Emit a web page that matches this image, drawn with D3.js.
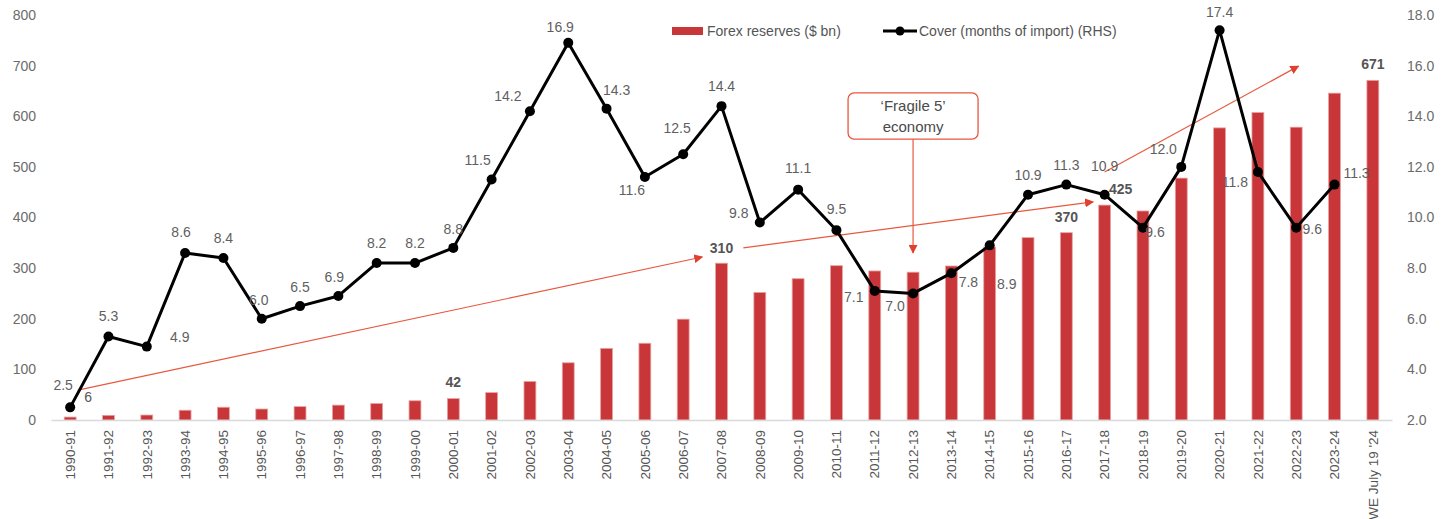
<!DOCTYPE html>
<html>
<head>
<meta charset="utf-8">
<script src="https://cdn.jsdelivr.net/npm/d3@7"></script>
<style>
  body { margin: 0; background: #fff; }
  svg { font-family: Arial, "Liberation Sans", sans-serif; }
</style>
</head>
<body>
<div id="chart"></div>
<script>
// categories (fiscal years)
const categories = ["1990-91","1991-92","1992-93","1993-94","1994-95","1995-96","1996-97","1997-98",
  "1998-99","1999-00","2000-01","2001-02","2002-03","2003-04","2004-05","2005-06","2006-07","2007-08",
  "2008-09","2009-10","2010-11","2011-12","2012-13","2013-14","2014-15","2015-16","2016-17","2017-18",
  "2018-19","2019-20","2020-21","2021-22","2022-23","2023-24","WE July 19 '24"];

// forex reserves, $ bn (left axis)
const reserves = [5.8, 9.2, 9.8, 19.3, 25.2, 21.7, 26.4, 29.4, 32.5, 38.0, 42.3, 54.1, 76.1, 113.0,
  141.5, 151.6, 199.2, 309.7, 252.0, 279.1, 304.8, 294.4, 292.0, 304.2, 341.6, 360.2, 370.0, 424.5,
  412.9, 477.8, 577.0, 607.3, 578.4, 645.6, 670.9];

// import cover, months (right axis) - no value for the last week
const cover = [2.5, 5.3, 4.9, 8.6, 8.4, 6.0, 6.5, 6.9, 8.2, 8.2, 8.8, 11.5, 14.2, 16.9, 14.3, 11.6,
  12.5, 14.4, 9.8, 11.1, 9.5, 7.1, 7.0, 7.8, 8.9, 10.9, 11.3, 10.9, 9.6, 12.0, 17.4, 11.8, 9.6, 11.3];

// bars that carry a value label
const barLabelCats = ["1990-91", "2000-01", "2007-08", "2016-17", "2017-18", "WE July 19 '24"];
const barLabelText = ["6", "42", "310", "370", "425", "671"];

const leftTicks = [0, 100, 200, 300, 400, 500, 600, 700, 800];
const rightTicks = [2, 4, 6, 8, 10, 12, 14, 16, 18];

const seriesNames = ["Forex reserves ($ bn)", "Cover (months of import) (RHS)"];
const annotationText = ["\u2018Fragile 5\u2019", "economy"];

// label placement (dx, dy from the point), layout only
const coverLabelOffsets = [[-7,-22],[0,-20],[33,-10],[-4,-21],[0,-20],[-3,-19],[0,-19],[-4,-19],
  [0,-20],[0,-20],[0,-19],[-14,-20],[-22,-15],[-8,-16],[10,-19],[-13,13],[-6,-26],[0,-20],
  [-21,-10],[0,-22],[0,-21],[-21,6],[-18,13],[17,9],[17,39],[0,-20],[0,-20],[0,-29],[12,4],
  [-18,-18],[0,-18],[-23,10],[16,1],[22,-12]];
const barLabelOffsets = [[18,-20],[0,-17],[0,-15],[0,-16],[16,-16],[0,-16]];
const barLabelWeight = ["normal", "bold", "bold", "bold", "bold", "bold"];

const W = 1448, H = 519;
const plot = {left: 51, right: 1392, top: 15, bottom: 420};
const FONT = "Arial, 'Liberation Sans', sans-serif";

const svg = d3.select("#chart").append("svg")
  .attr("width", W).attr("height", H);

const x = d3.scaleBand()
  .domain(categories)
  .range([plot.left, plot.right])
  .paddingInner(0.69)
  .paddingOuter(0.345);
const cx = c => x(c) + x.bandwidth() / 2;

const yL = d3.scaleLinear().domain([0, 800]).range([plot.bottom, plot.top]);
const yR = d3.scaleLinear().domain([2, 18]).range([plot.bottom, plot.top]);

// left axis
const axL = svg.append("g")
  .attr("transform", "translate(" + (plot.left - 15) + ",0)")
  .call(d3.axisLeft(yL).tickValues(leftTicks).tickSize(0).tickPadding(0));
axL.select(".domain").remove();
axL.selectAll("text").attr("font-size", 14).attr("fill", "#6b6b6b").attr("font-family", FONT);

// right axis
const axR = svg.append("g")
  .attr("transform", "translate(" + (plot.right + 15) + ",0)")
  .call(d3.axisRight(yR).tickValues(rightTicks).tickFormat(d3.format(".1f")).tickSize(0).tickPadding(0));
axR.select(".domain").remove();
axR.selectAll("text").attr("font-size", 14).attr("fill", "#6b6b6b").attr("font-family", FONT);

// bars
svg.append("g").selectAll("rect")
  .data(categories)
  .join("rect")
  .attr("x", d => x(d))
  .attr("y", (d, i) => yL(reserves[i]))
  .attr("width", x.bandwidth())
  .attr("height", (d, i) => yL(0) - yL(reserves[i]))
  .attr("fill", "#c9363a")
  .attr("stroke", "#e6a3a0")
  .attr("stroke-width", 0.8);

// x axis
const axX = svg.append("g")
  .attr("transform", "translate(0," + plot.bottom + ")")
  .call(d3.axisBottom(x).tickSize(0).tickPadding(0));
axX.select(".domain").attr("stroke", "#d9d9d9").attr("stroke-width", 1.5);
axX.selectAll("text")
  .attr("font-size", 13.5).attr("fill", "#555")
  .attr("font-family", FONT)
  .attr("transform", "rotate(-90)")
  .attr("text-anchor", "end")
  .attr("x", -10).attr("y", 0).attr("dy", "0.35em");

// arrow marker
const defs = svg.append("defs");
defs.append("marker")
  .attr("id", "arr")
  .attr("viewBox", "0 0 10 10")
  .attr("refX", 9).attr("refY", 5)
  .attr("markerWidth", 9).attr("markerHeight", 9)
  .attr("markerUnits", "userSpaceOnUse")
  .attr("orient", "auto")
  .append("path").attr("d", "M0,0 L10,5 L0,10 Z").attr("fill", "#e0402e");

// trend arrows in data terms: [category index, reserves value]
const trendArrows = [
  [[0.2, 59], [16.5, 322]],
  [[17.57, 340], [26.7, 431]],
  [[27.0, 490], [32.06, 699]]
];
const idxX = i => cx(categories[0]) + i * x.step();
svg.append("g").selectAll("line")
  .data(trendArrows)
  .join("line")
  .attr("x1", d => idxX(d[0][0])).attr("y1", d => yL(d[0][1]))
  .attr("x2", d => idxX(d[1][0])).attr("y2", d => yL(d[1][1]))
  .attr("stroke", "#e8583f").attr("stroke-width", 1.2)
  .attr("marker-end", "url(#arr)");

// Fragile 5 callout
const fx = cx("2012-13");
const box = svg.append("g");
box.append("rect")
  .attr("x", fx - 65).attr("y", yL(646))
  .attr("width", 130).attr("height", yL(555) - yL(646))
  .attr("rx", 6)
  .attr("fill", "#fff").attr("stroke", "#e8583f").attr("stroke-width", 1.3);
box.selectAll("text")
  .data(annotationText)
  .join("text")
  .attr("x", fx)
  .attr("y", (d, i) => yL(646) + 13 + i * 21)
  .attr("text-anchor", "middle")
  .attr("dominant-baseline", "central")
  .attr("font-size", 15).attr("fill", "#4a4a4a")
  .text(d => d);
box.append("line")
  .attr("x1", fx).attr("y1", yL(555))
  .attr("x2", fx).attr("y2", yL(330))
  .attr("stroke", "#e8583f").attr("stroke-width", 1.2)
  .attr("marker-end", "url(#arr)");

// cover line
const coverCats = categories.slice(0, cover.length);
const line = d3.line()
  .x((d, i) => cx(coverCats[i]))
  .y(d => yR(d));
svg.append("path")
  .datum(cover)
  .attr("d", line)
  .attr("fill", "none")
  .attr("stroke", "#000")
  .attr("stroke-width", 3)
  .attr("stroke-linejoin", "round");
svg.append("g").selectAll("circle")
  .data(cover)
  .join("circle")
  .attr("cx", (d, i) => cx(coverCats[i]))
  .attr("cy", d => yR(d))
  .attr("r", 5)
  .attr("fill", "#000");

// cover labels
svg.append("g").selectAll("text")
  .data(cover)
  .join("text")
  .attr("x", (d, i) => cx(coverCats[i]) + coverLabelOffsets[i][0])
  .attr("y", (d, i) => yR(d) + coverLabelOffsets[i][1])
  .attr("text-anchor", "middle")
  .attr("dominant-baseline", "central")
  .attr("font-size", 14).attr("fill", "#5f5f5f")
  .text(d => d3.format(".1f")(d));

// bar labels
svg.append("g").selectAll("text")
  .data(barLabelCats)
  .join("text")
  .attr("x", (d, i) => cx(d) + barLabelOffsets[i][0])
  .attr("y", (d, i) => yL(reserves[categories.indexOf(d)]) + barLabelOffsets[i][1])
  .attr("text-anchor", "middle")
  .attr("dominant-baseline", "central")
  .attr("font-size", 14).attr("font-weight", (d, i) => barLabelWeight[i]).attr("fill", "#555")
  .text((d, i) => barLabelText[i]);

// legend
const lg = svg.append("g").attr("transform", "translate(672,31)");
lg.append("rect").attr("x", 0).attr("y", -4).attr("width", 31).attr("height", 8).attr("fill", "#c9363a");
lg.append("text").attr("x", 35).attr("y", 0).attr("dominant-baseline", "central")
  .attr("font-size", 14).attr("fill", "#555").text(seriesNames[0]);
lg.append("line").attr("x1", 211).attr("x2", 245).attr("y1", 0).attr("y2", 0)
  .attr("stroke", "#000").attr("stroke-width", 3);
lg.append("circle").attr("cx", 228).attr("cy", 0).attr("r", 4.5).attr("fill", "#000");
lg.append("text").attr("x", 247).attr("y", 0).attr("dominant-baseline", "central")
  .attr("font-size", 14).attr("fill", "#555").text(seriesNames[1]);
</script>
</body>
</html>
